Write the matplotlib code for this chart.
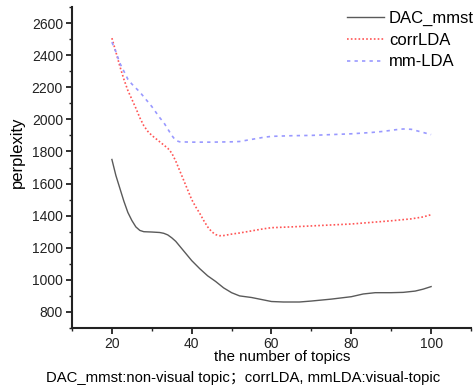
import matplotlib
matplotlib.use("Agg")
import matplotlib.pyplot as plt
from matplotlib.ticker import MultipleLocator

plt.rcParams['font.family'] = ['Liberation Sans', 'Noto Sans CJK SC', 'DejaVu Sans']

topics_dac = [20, 21, 22, 23, 24, 25, 26, 27, 28, 30, 32, 33, 34, 35, 36, 37, 38, 40, 42, 44, 46, 48,
              50, 52, 55, 58, 60, 63, 67, 70, 75, 80, 83, 86, 90, 93, 96, 98, 100]
dac_mmst = [1750, 1650, 1570, 1490, 1420, 1370, 1330, 1308, 1300, 1298, 1295, 1290, 1280, 1262, 1240, 1210,
            1180, 1120, 1070, 1025, 990, 950, 920, 900, 890, 875, 865, 862, 862, 868, 880, 895, 912, 920,
            920, 922, 930, 942, 958]

topics_corr = [20, 21, 22, 23, 24, 25, 26, 27, 28, 29, 30, 32, 34, 35, 36, 37, 38, 39, 40, 41, 42, 43,
               44, 45, 46, 47, 48, 50, 52, 55, 58, 60, 65, 70, 75, 80, 85, 90, 95, 98, 100]
corr_lda = [2506, 2420, 2330, 2250, 2180, 2125, 2070, 2010, 1960, 1925, 1900, 1860, 1820, 1790, 1740, 1680,
            1620, 1560, 1500, 1455, 1415, 1370, 1330, 1300, 1282, 1275, 1276, 1285, 1292, 1305, 1318, 1325,
            1330, 1336, 1342, 1348, 1358, 1368, 1380, 1392, 1406]

topics_mm = [20, 21, 22, 23, 24, 25, 26, 27, 28, 30, 32, 33, 34, 35, 36, 37, 40, 45, 50, 52, 55, 58,
             60, 65, 70, 75, 80, 85, 88, 91, 93, 95, 97, 100]
mm_lda = [2481, 2420, 2350, 2300, 2250, 2220, 2195, 2170, 2140, 2080, 2010, 1980, 1940, 1900, 1868, 1860,
          1858, 1858, 1860, 1862, 1875, 1888, 1894, 1898, 1900, 1905, 1910, 1918, 1925, 1935, 1940, 1938,
          1925, 1905]

fig = plt.figure(figsize=(4.77, 3.87), dpi=100)
ax = fig.add_axes([72/477, 1-328/387, (471-72)/477, (328-7)/387])

ax.plot(topics_dac, dac_mmst, color='#5a5a5a', lw=1.0, ls='-', label='DAC_mmst')
ax.plot(topics_corr, corr_lda, color='#ff5555', lw=1.2, ls=(0, (1, 1.3)), label='corrLDA')
ax.plot(topics_mm, mm_lda, color='#9999ff', lw=1.2, ls=(0, (2.0, 2.5)), label='mm-LDA')

ax.set_xlim(10, 110)
ax.set_ylim(700, 2700)
ax.xaxis.set_minor_locator(MultipleLocator(10))
ax.yaxis.set_minor_locator(MultipleLocator(100))
ax.set_yticks(range(800, 2700, 200))
ax.set_xticks(range(20, 101, 20))
for s in ['top', 'right']:
    ax.spines[s].set_visible(False)
for s in ['left', 'bottom']:
    ax.spines[s].set_linewidth(1.5)
    ax.spines[s].set_color('#222222')
ax.tick_params(which='major', direction='out', length=4, width=1.3, pad=2.5, labelsize=10, colors='#222222')
ax.tick_params(which='minor', direction='out', length=2.5, width=1.0, colors='#222222')

ax.set_ylabel('perplexity', fontsize=12)
ax.yaxis.set_label_coords(-0.118, 0.548)
ax.set_xlabel('the number of topics', fontsize=10.8)
ax.xaxis.set_label_coords(0.528, -0.069)
fig.text(0.51, 0.024, 'DAC_mmst:non-visual topic；corrLDA, mmLDA:visual-topic',
         ha='center', va='center', fontsize=10.7)

leg = ax.legend(loc='upper left', bbox_to_anchor=(0.69, 0.9875), frameon=False, fontsize=12,
                handlelength=2.2, handletextpad=0.3, labelspacing=0.4, borderaxespad=0, borderpad=0)

fig.savefig('out.png', dpi=100)
